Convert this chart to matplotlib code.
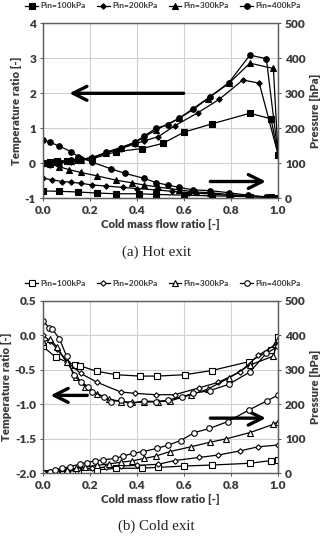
import matplotlib
matplotlib.use("Agg")
import matplotlib.pyplot as plt

plt.rcParams['font.family'] = ['Lato', 'DejaVu Sans']
plt.rcParams['font.weight'] = 'bold'

labels = ['Pin=100kPa', 'Pin=200kPa', 'Pin=300kPa', 'Pin=400kPa']
markers = ['s', 'D', '^', 'o']
msizes = [4.0, 2.8, 3.8, 4.0]

# ---- (a) hot exit : temperature ratio (left axis)
hot_t_x100 = [0.0, 0.03, 0.06, 0.10, 0.15, 0.21, 0.31, 0.42, 0.51, 0.60, 0.72, 0.88, 0.97, 1.0]
hot_t_y100 = [0.0, 0.03, 0.08, 0.06, 0.09, 0.13, 0.33, 0.42, 0.57, 0.89, 1.13, 1.43, 1.27, 0.25]
hot_t_x200 = [0.0, 0.03, 0.07, 0.12, 0.16, 0.21, 0.27, 0.33, 0.39, 0.43, 0.49, 0.56, 0.66, 0.75, 0.85, 0.92, 1.0]
hot_t_y200 = [0.0, -0.05, 0.02, 0.05, 0.10, 0.17, 0.30, 0.42, 0.55, 0.64, 0.76, 1.07, 1.45, 1.83, 2.38, 2.29, 0.25]
hot_t_x300 = [0.0, 0.03, 0.07, 0.12, 0.16, 0.21, 0.27, 0.33, 0.39, 0.43, 0.48, 0.58, 0.70, 0.79, 0.88, 0.98, 1.0]
hot_t_y300 = [0.0, 0.02, 0.0, 0.06, 0.10, 0.15, 0.30, 0.44, 0.58, 0.75, 0.95, 1.29, 1.85, 2.28, 2.86, 2.71, 0.25]
hot_t_x400 = [0.0, 0.03, 0.07, 0.12, 0.16, 0.21, 0.27, 0.33, 0.39, 0.43, 0.48, 0.53, 0.58, 0.64, 0.71, 0.79, 0.88, 0.95, 1.0]
hot_t_y400 = [0.0, 0.0, 0.05, 0.10, 0.12, 0.16, 0.32, 0.45, 0.60, 0.78, 1.0, 1.10, 1.29, 1.54, 1.90, 2.30, 3.09, 2.99, 0.25]

# ---- (a) hot exit : pressure [hPa] (right axis)
hot_p_x100 = [0.0, 0.07, 0.15, 0.23, 0.31, 0.41, 0.48, 0.60, 0.72, 0.88, 0.97, 1.0]
hot_p_y100 = [21, 20, 18, 15, 13, 13, 11, 9, 7, 5, 3, 2]
hot_p_x200 = [0.0, 0.04, 0.08, 0.12, 0.16, 0.21, 0.27, 0.34, 0.40, 0.48, 0.55, 0.62, 0.72, 0.80, 0.88, 0.95, 1.0]
hot_p_y200 = [57, 53, 48, 46, 43, 38, 35, 31, 28, 24, 20, 16, 12, 8, 5, 3, 2]
hot_p_x300 = [0.0, 0.03, 0.07, 0.11, 0.16, 0.23, 0.31, 0.38, 0.43, 0.49, 0.58, 0.65, 0.71, 0.79, 0.87, 0.95, 1.0]
hot_p_y300 = [100, 98, 90, 82, 74, 64, 52, 44, 38, 32, 24, 18, 16, 11, 7, 4, 2]
hot_p_x400 = [0.0, 0.03, 0.07, 0.12, 0.15, 0.21, 0.29, 0.35, 0.43, 0.48, 0.53, 0.58, 0.64, 0.71, 0.79, 0.87, 0.95, 1.0]
hot_p_y400 = [167, 160, 149, 133, 119, 103, 84, 71, 57, 45, 38, 31, 24, 22, 16, 9, 4, 2]

# ---- (b) cold exit : temperature ratio
cold_t_x100 = [0.0, 0.055, 0.136, 0.157, 0.228, 0.31, 0.413, 0.486, 0.604, 0.717, 0.877, 0.969, 1.0]
cold_t_y100 = [-0.16, -0.32, -0.43, -0.44, -0.52, -0.57, -0.59, -0.59, -0.57, -0.51, -0.38, -0.21, -0.03]
cold_t_x200 = [0.0, 0.03, 0.06, 0.10, 0.16, 0.23, 0.33, 0.39, 0.48, 0.56, 0.665, 0.746, 0.838, 0.916, 1.0]
cold_t_y200 = [0.0, -0.08, -0.2, -0.38, -0.55, -0.68, -0.82, -0.84, -0.86, -0.86, -0.76, -0.68, -0.53, -0.29, -0.11]
cold_t_x300 = [0.0, 0.03, 0.06, 0.10, 0.14, 0.18, 0.23, 0.28, 0.33, 0.38, 0.43, 0.49, 0.54, 0.63, 0.70, 0.79, 0.88, 0.98, 1.0]
cold_t_y300 = [-0.1, -0.05, -0.17, -0.38, -0.6, -0.75, -0.85, -0.92, -0.96, -0.97, -0.97, -0.96, -0.95, -0.86, -0.78, -0.62, -0.43, -0.30, -0.05]
cold_t_x400 = [0.0, 0.026, 0.04, 0.07, 0.10, 0.13, 0.16, 0.19, 0.21, 0.26, 0.29, 0.33, 0.37, 0.43, 0.48, 0.53, 0.59, 0.64, 0.71, 0.79, 0.88, 0.95, 1.0]
cold_t_y400 = [0.21, 0.11, 0.09, -0.05, -0.30, -0.58, -0.67, -0.75, -0.82, -0.89, -0.96, -0.94, -0.99, -0.95, -0.96, -0.94, -0.89, -0.84, -0.80, -0.71, -0.53, -0.26, -0.16]

# ---- (b) cold exit : pressure [hPa]
cold_p_x100 = [0.0, 0.03, 0.06, 0.10, 0.15, 0.23, 0.31, 0.42, 0.49, 0.60, 0.72, 0.88, 0.97, 1.0]
cold_p_y100 = [0, 2, 4, 6, 8, 10, 14, 15, 17, 21, 24, 29, 37, 38]
cold_p_x200 = [0.0, 0.03, 0.06, 0.10, 0.15, 0.21, 0.27, 0.33, 0.40, 0.49, 0.56, 0.665, 0.746, 0.838, 0.916, 1.0]
cold_p_y200 = [0, 3, 5, 8, 11, 15, 18, 21, 23, 26, 37, 46, 53, 65, 77, 82]
cold_p_x300 = [0.0, 0.03, 0.06, 0.10, 0.14, 0.18, 0.23, 0.28, 0.33, 0.38, 0.43, 0.48, 0.54, 0.63, 0.71, 0.78, 0.88, 0.98, 1.0]
cold_p_y300 = [0, 3, 6, 10, 14, 18, 23, 27, 32, 36, 43, 50, 63, 77, 90, 100, 118, 142, 150]
cold_p_x400 = [0.0, 0.03, 0.05, 0.08, 0.115, 0.157, 0.185, 0.221, 0.257, 0.306, 0.34, 0.384, 0.426, 0.484, 0.533, 0.586, 0.644, 0.708, 0.786, 0.877, 0.952, 1.0]
cold_p_y400 = [0, 5, 10, 14, 19, 27, 31, 36, 39, 43, 50, 58, 63, 72, 82, 95, 118, 130, 150, 184, 210, 227]

hot_t = [(hot_t_x100, hot_t_y100), (hot_t_x200, hot_t_y200), (hot_t_x300, hot_t_y300), (hot_t_x400, hot_t_y400)]
hot_p = [(hot_p_x100, hot_p_y100), (hot_p_x200, hot_p_y200), (hot_p_x300, hot_p_y300), (hot_p_x400, hot_p_y400)]
cold_t = [(cold_t_x100, cold_t_y100), (cold_t_x200, cold_t_y200), (cold_t_x300, cold_t_y300), (cold_t_x400, cold_t_y400)]
cold_p = [(cold_p_x100, cold_p_y100), (cold_p_x200, cold_p_y200), (cold_p_x300, cold_p_y300), (cold_p_x400, cold_p_y400)]

txt = '#3a3a3a'
fig = plt.figure(figsize=(3.26, 5.38), dpi=100)


def panel(rect, tdata, pdata, ylim, yticks, ytlabels, filled, caption, cap_y, leg_y, arrows):
    ax = fig.add_axes(rect)
    ax2 = ax.twinx()
    for i in range(4):
        fc = 'black' if filled else 'white'
        kw = dict(color='black', lw=0.9, marker=markers[i], ms=msizes[i], mfc=fc, mec='black', mew=0.8)
        ax.plot(tdata[i][0], tdata[i][1], label=labels[i], **kw)
        ax2.plot(pdata[i][0], pdata[i][1], **kw)
    ax.set_xlim(0, 1)
    ax.set_ylim(*ylim)
    ax.set_yticks(yticks)
    ax.set_yticklabels(ytlabels)
    ax.set_xticks([0, 0.2, 0.4, 0.6, 0.8, 1.0])
    ax.set_xticklabels(['0.0', '0.2', '0.4', '0.6', '0.8', '1.0'])
    ax2.set_ylim(0, 500)
    ax2.set_yticks([0, 100, 200, 300, 400, 500])
    ax.grid(True, color='#d0d0d0', lw=0.8)
    ax.set_axisbelow(True)
    for a in (ax, ax2):
        a.tick_params(labelsize=8.6, colors=txt, length=2, width=0.6, pad=3)
        for s in a.spines.values():
            s.set_color('#606060')
            s.set_linewidth(0.9)
        for lab in a.get_xticklabels() + a.get_yticklabels():
            lab.set_fontweight('heavy')
    ax.set_xlabel('Cold mass flow ratio [-]', fontsize=8.2, color=txt, fontweight='heavy', labelpad=2)
    ax.set_ylabel('Temperature ratio [-]', fontsize=8.2, color=txt, fontweight='heavy', labelpad=2)
    ax2.set_ylabel('Pressure [hPa]', fontsize=8.2, color=txt, fontweight='heavy', labelpad=3)
    fig.legend(*ax.get_legend_handles_labels(), loc='center', bbox_to_anchor=(0.5, leg_y), ncol=4,
               frameon=False, prop=dict(size=6.0, weight='bold'), handlelength=1.5,
               handletextpad=0.3, columnspacing=1.35, labelcolor=txt)
    for (x0, y0, x1, y1) in arrows:
        ax.annotate('', xy=(x1, y1), xytext=(x0, y0),
                    arrowprops=dict(arrowstyle='->,head_length=1.0,head_width=0.5', lw=2.4, color='black'))
    fig.text(0.48, cap_y, caption, ha='center', va='center', fontsize=10.8,
             family='Liberation Serif', fontweight='normal', color='#222222')


panel([0.132, 0.6314, 0.721, 0.3253], hot_t, hot_p, (-1, 4), [-1, 0, 1, 2, 3, 4],
      ['-1', '0', '1', '2', '3', '4'], True, '(a) Hot exit', 0.532, 0.989,
      [(0.61, 2.0, 0.1, 2.0), (0.7, -0.52, 0.96, -0.52)])
panel([0.132, 0.1203, 0.721, 0.3203], cold_t, cold_p, (-2, 0.5), [-2, -1.5, -1, -0.5, 0, 0.5],
      ['-2.0', '-1.5', '-1.0', '-0.5', '0.0', '0.5'], False, '(b) Cold exit', 0.022, 0.473,
      [(0.2, -0.87, 0.02, -0.87), (0.7, -1.2, 0.96, -1.2)])

fig.savefig('out.png', dpi=100)
